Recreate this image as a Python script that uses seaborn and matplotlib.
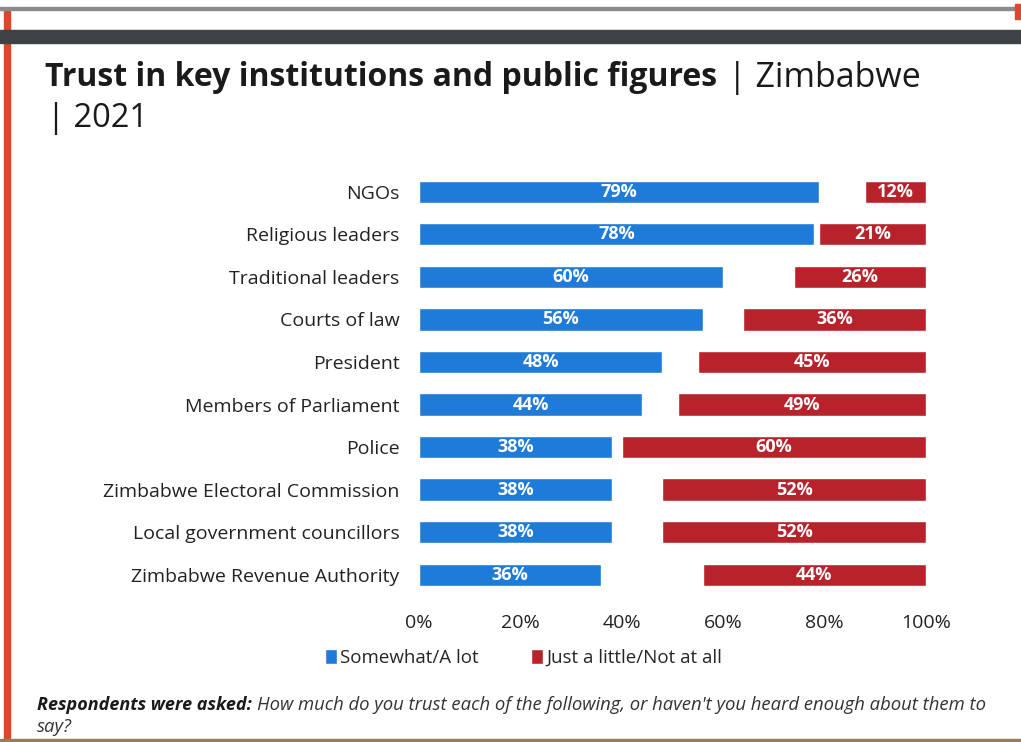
import matplotlib
matplotlib.use("Agg")
import matplotlib.pyplot as plt
import seaborn as sns
import pandas as pd
from matplotlib.patches import Rectangle
from matplotlib.ticker import FuncFormatter

categories = ["NGOs", "Religious leaders", "Traditional leaders", "Courts of law",
              "President", "Members of Parliament", "Police",
              "Zimbabwe Electoral Commission", "Local government councillors",
              "Zimbabwe Revenue Authority"]
trust = [79, 78, 60, 56, 48, 44, 38, 38, 38, 36]
distrust = [12, 21, 26, 36, 45, 49, 60, 52, 52, 44]
series_names = ["Somewhat/A lot", "Just a little/Not at all"]
xticks = [0, 20, 40, 60, 80, 100]

BLUE = "#1f7bd8"
RED = "#b8232b"

sns.set_theme(style="white")
plt.rcParams["font.family"] = ["Open Sans", "DejaVu Sans"]

fig = plt.figure(figsize=(10.21, 7.42), dpi=100)
fig.patch.set_facecolor("white")

# slide frame decorations
fig.add_artist(Rectangle((0.004, 0.0), 0.006, 0.985, transform=fig.transFigure, color="#d9482b", zorder=5))
fig.add_artist(Rectangle((0.0, 0.942), 1.0, 0.018, transform=fig.transFigure, color="#3f4245", zorder=5))
fig.add_artist(Rectangle((0.0, 0.987), 1.0, 0.003, transform=fig.transFigure, color="#8a8a8a", zorder=5))
fig.add_artist(Rectangle((0.0, 0.0), 1.0, 0.004, transform=fig.transFigure, color="#9a7b5a", zorder=5))
fig.add_artist(Rectangle((0.994, 0.975), 0.006, 0.02, transform=fig.transFigure, color="#e0452a", zorder=5))

ax = fig.add_axes([0.4103, 0.197, 0.4966, 0.573])

df = pd.DataFrame({"cat": categories, "trust": trust, "distrust": distrust})
df["start"] = [100 - d for d in distrust]

sns.barplot(data=df, y="cat", x="trust", color=BLUE, orient="h", width=0.52,
            ax=ax, saturation=1, label=series_names[0])
sns.barplot(data=df, y="cat", x="distrust", left=df["start"], color=RED, orient="h",
            width=0.52, ax=ax, saturation=1, label=series_names[1])

for i, (t, d) in enumerate(zip(trust, distrust)):
    ax.text(t / 2, i, f"{t}%", ha="center", va="center", color="white",
            fontsize=13, fontweight="bold")
    ax.text(100 - d / 2, i, f"{d}%", ha="center", va="center", color="white",
            fontsize=13, fontweight="bold")

ax.set_xlim(0, 100)
ax.set_ylim(9.5, -0.5)
ax.set_xticks(xticks)
ax.xaxis.set_major_formatter(FuncFormatter(lambda v, p: f"{int(v)}%"))
ax.set_xlabel("")
ax.set_ylabel("")
for s in ax.spines.values():
    s.set_visible(False)
ax.tick_params(axis="x", labelsize=14, colors="#222222", pad=13, length=0)
ax.tick_params(axis="y", labelsize=14, colors="#222222", pad=14, length=0)

handles, labels = ax.get_legend_handles_labels()
leg = ax.legend(handles[:2], labels[:2], loc="center", bbox_to_anchor=(0.207, -0.146),
                ncol=2, frameon=False, fontsize=13.5, handlelength=0.6, handleheight=0.9,
                handletextpad=0.2, columnspacing=2.8)

t1 = fig.text(0.044, 0.895, "Trust in key institutions and public figures", fontsize=23,
              fontweight="bold", color="#1a1a1a", va="center")
fig.text(0.046, 0.84, "| 2021", fontsize=23.5, color="#1a1a1a", va="center")
fig.canvas.draw()
ax.annotate("| Zimbabwe", xy=(1, 0.5), xycoords=t1, xytext=(8, 0),
            textcoords="offset points", fontsize=24.5, color="#1a1a1a", va="center",
            annotation_clip=False)

f1 = fig.text(0.036, 0.05, "Respondents were asked:", fontsize=13, fontweight="bold",
              fontstyle="italic", color="#1a1a1a", va="center")
ax.annotate("How much do you trust each of the following, or haven't you heard enough about them to",
            xy=(1, 0.5), xycoords=f1, xytext=(4, 0), textcoords="offset points",
            fontsize=13.3, fontstyle="italic", color="#333333", va="center",
            annotation_clip=False)
fig.text(0.036, 0.02, "say?", fontsize=13.3, fontstyle="italic", color="#333333", va="center")

fig.savefig("out.png", dpi=100)
